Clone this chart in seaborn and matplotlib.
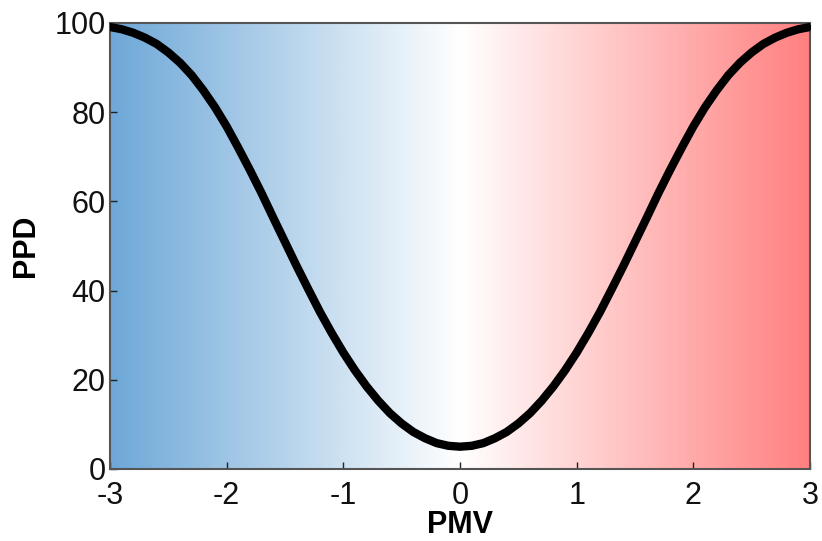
import numpy as np
import pandas as pd
import matplotlib
matplotlib.use("Agg")
import matplotlib.pyplot as plt
from matplotlib.colors import LinearSegmentedColormap
import seaborn as sns

# PMV values (-3..3 in 0.1 steps) and PPD
pmv = [round(-3 + 0.1 * i, 1) for i in range(61)]
ppd_half = [5.0, 5.2, 5.8, 6.9, 8.3, 10.2, 12.5, 15.3, 18.5, 22.1, 26.1,
            30.5, 35.2, 40.3, 45.5, 50.9, 56.3, 61.8, 67.0, 72.0, 76.8,
            81.1, 84.9, 88.3, 91.1, 93.4, 95.3, 96.7, 97.8, 98.6, 99.1]
ppd = ppd_half[::-1] + ppd_half[1:]
xticks = [-3, -2, -1, 0, 1, 2, 3]
yticks = [0, 20, 40, 60, 80, 100]

df = pd.DataFrame({"PMV": pmv, "PPD": ppd})

sns.set_theme(style="white")
plt.rcParams['font.family'] = ['Liberation Sans', 'DejaVu Sans']

fig = plt.figure(figsize=(8.22, 5.41), dpi=100)
ax = fig.add_axes([0.1338, 0.1331, 0.8516, 0.8244])

cmap = LinearSegmentedColormap.from_list("bwr_soft", ["#6ea8d8", "#ffffff", "#ff7f7f"])
grad = np.linspace(0, 1, 512).reshape(1, -1)
ax.imshow(grad, cmap=cmap, extent=[-3, 3, 0, 100], aspect="auto", zorder=0)

sns.lineplot(data=df, x="PMV", y="PPD", ax=ax, color="black", linewidth=6,
             marker="o", markersize=4, markeredgewidth=0, zorder=3)
ax.set_xlim(-3, 3)
ax.set_ylim(0, 100)
ax.set_xticks(xticks)
ax.set_yticks(yticks)
ax.set_xticklabels([str(t) for t in xticks])
ax.set_yticklabels([str(t) for t in yticks])
ax.tick_params(direction="in", length=5, width=1, labelsize=22,
               top=False, right=False, bottom=True, left=True, colors="#222222",
               labelcolor="#111111")
ax.tick_params(axis="x", pad=9)
ax.tick_params(axis="y", pad=3)
for s in ax.spines.values():
    s.set_visible(True)
    s.set_color("#555555")
    s.set_linewidth(1.5)
ax.set_xlabel("PMV", fontsize=22, fontweight="bold", labelpad=-1, color="black")
ax.set_ylabel("PPD", fontsize=22, fontweight="bold", labelpad=10, color="black")

fig.savefig("out.png", dpi=100)
